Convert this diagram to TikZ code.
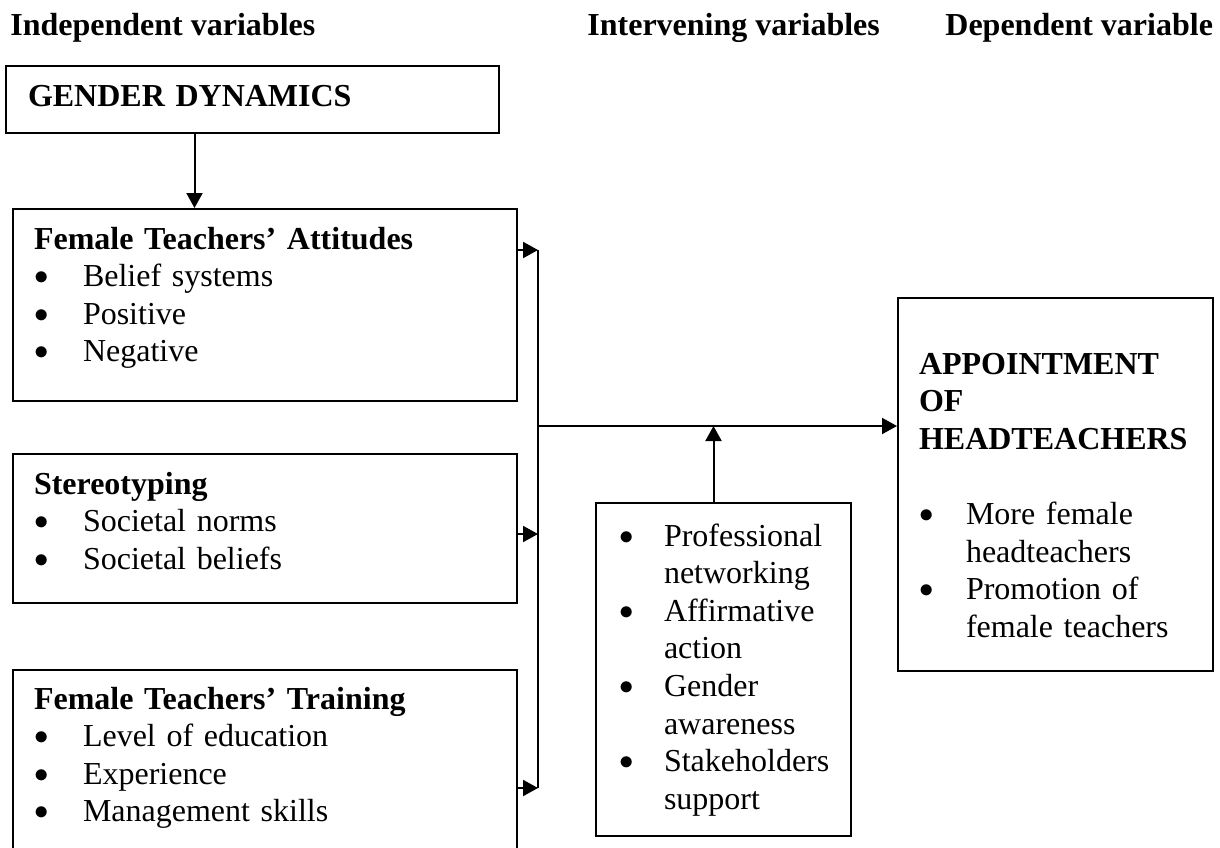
\documentclass[tikz,border=0pt]{standalone}
\usepackage{fontspec}
\setmainfont{Liberation Serif}
\usetikzlibrary{arrows.meta}
\newcommand{\bul}[1][24.5pt]{\makebox[#1][l]{\raisebox{1pt}{\fontsize{14}{14}\selectfont$\bullet$}}}
\newcommand{\hng}[1][22.5pt]{\hspace*{#1}}
\tikzset{
  varbox/.style={draw, line width=1pt, anchor=north west, align=left, inner ysep=0pt},
  arr/.style={line width=1pt, -{Triangle[length=7.5pt,width=8pt]}},
}
\begin{document}
\begin{tikzpicture}[x=0.5pt, y=-0.5pt, every node/.style={font=\fontsize{16}{18.8}\selectfont}]
\useasboundingbox (0,0) rectangle (1220,847);
% headings
\node[anchor=base west, inner sep=0pt] (hind) at (10,35) {\textbf{Independent variables}};
\node[anchor=base west, inner sep=0pt] (hint) at (587,35) {\textbf{Intervening variables}};
\node[anchor=base west, inner sep=0pt] (hdep) at (945,35) {\textbf{Dependent variable}};
% boxes
\node[varbox, inner xsep=11pt, text width=224.5pt, text height=20pt, text depth=13.5pt] (gd) at (5,65) {\textbf{GENDER DYNAMICS}};
\node[varbox, inner xsep=10.5pt, text width=231pt, text height=20pt, text depth=76pt] (att) at (12,208)
  {\textbf{Female Teachers’ Attitudes}\\\bul Belief systems\\\bul Positive\\\bul Negative};
\node[varbox, inner xsep=10.5pt, text width=231pt, text height=20pt, text depth=54.5pt] (st) at (12,453)
  {\textbf{Stereotyping}\\\bul Societal norms\\\bul Societal beliefs};
\node[varbox, inner xsep=10.5pt, text width=231pt, text height=19.5pt, text depth=100pt] (tr) at (12,669)
  {\textbf{Female Teachers’ Training}\\\bul Level of education\\\bul Experience\\\bul Management skills};
\node[varbox, inner xsep=11.5pt, text width=104.5pt, text height=21.5pt, text depth=145pt] (iv) at (595,502)
  {\bul[22.5pt]Professional\\\hng networking\\\bul[22.5pt]Affirmative\\\hng action\\\bul[22.5pt]Gender\\\hng awareness\\\bul[22.5pt]Stakeholders\\\hng support};
\node[varbox, inner xsep=10.5pt, text width=136.5pt, text height=38pt, text depth=148.5pt] (ap) at (897,297)
  {\textbf{APPOINTMENT}\\\textbf{OF}\\\textbf{HEADTEACHERS}\\[18.8pt]\bul[23.5pt]More female\\\hng[23.5pt]headteachers\\\bul[23.5pt]Promotion of\\\hng[23.5pt]female teachers};
% joining line
\coordinate (bus top) at (538,250);
\coordinate (bus mid) at (538,426);
\coordinate (bus st) at (538,534);
\coordinate (bus bottom) at (538,788);
\draw[line width=1pt] (bus top) -- (bus bottom);
% arrows
\draw[arr] ([xshift=-29pt]gd.south) -- ([xshift=-29pt]gd.south |- att.north);
\draw[arr] (att.east |- bus top) -- (bus top);
\draw[arr] (st.east |- bus st) -- (bus st);
\draw[arr] (tr.east |- bus bottom) -- (bus bottom);
\draw[arr] (bus mid) -- (ap.west |- bus mid);
\draw[arr] ([xshift=-5pt]iv.north) -- ([xshift=-5pt]iv.north |- bus mid);
\end{tikzpicture}
\end{document}
